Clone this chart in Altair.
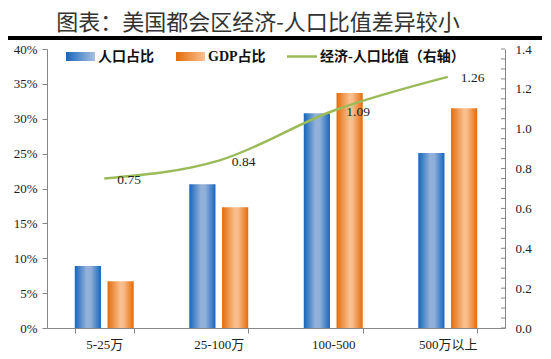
import altair as alt
import pandas as pd

# ---------------- data ----------------
categories = ["5-25万", "25-100万", "100-500", "500万以上"]
series = ["人口占比", "GDP占比"]
pop_share = [0.089, 0.206, 0.308, 0.251]
gdp_share = [0.067, 0.173, 0.337, 0.315]
ratio = [0.75, 0.84, 1.09, 1.26]

title_text = "图表：美国都会区经济-人口比值差异较小"
legend_labels = ["人口占比", "GDP占比", "经济-人口比值（右轴）"]
left_ticks = [0, 0.05, 0.10, 0.15, 0.20, 0.25, 0.30, 0.35, 0.40]
right_ticks = [0.0, 0.2, 0.4, 0.6, 0.8, 1.0, 1.2, 1.4]
minor_ticks = [0.0, 0.05, 0.10, 0.15, 0.20, 0.25, 0.30, 0.35, 0.40, 0.45, 0.50,
               0.55, 0.60, 0.65, 0.70, 0.75, 0.80, 0.85, 0.90, 0.95, 1.00,
               1.05, 1.10, 1.15, 1.20, 1.25, 1.30, 1.35, 1.40]

bars_df = pd.DataFrame(
    [{"cat": c, "series": series[0], "value": v} for c, v in zip(categories, pop_share)]
    + [{"cat": c, "series": series[1], "value": v} for c, v in zip(categories, gdp_share)]
)
line_df = pd.DataFrame({"cat": categories, "ratio": ratio})
minor_df = pd.DataFrame({"ratio": minor_ticks})
one = pd.DataFrame({"k": [0]})

# ---------------- style ----------------
FONT = "Liberation Serif, Noto Sans CJK SC"
CJK = "Noto Sans CJK SC"
AX = "#868686"
TXT = "#222222"

blue_grad = alt.LinearGradient(
    gradient="linear", x1=0, x2=1, y1=0, y2=0,
    stops=[alt.GradientStop(offset=0, color="#1666BE"),
           alt.GradientStop(offset=0.45, color="#93B1D9"),
           alt.GradientStop(offset=0.62, color="#8FAED8"),
           alt.GradientStop(offset=1, color="#1666BE")])
orange_grad = alt.LinearGradient(
    gradient="linear", x1=0, x2=1, y1=0, y2=0,
    stops=[alt.GradientStop(offset=0, color="#E46C0A"),
           alt.GradientStop(offset=0.5, color="#FAC090"),
           alt.GradientStop(offset=0.62, color="#F8BA88"),
           alt.GradientStop(offset=1, color="#E46C0A")])
blue_sw = alt.LinearGradient(
    gradient="linear", x1=0, x2=1, y1=0, y2=0,
    stops=[alt.GradientStop(offset=0, color="#1666BE"),
           alt.GradientStop(offset=1, color="#A9C0E0")])
orange_sw = alt.LinearGradient(
    gradient="linear", x1=0, x2=1, y1=0, y2=0,
    stops=[alt.GradientStop(offset=0, color="#E46C0A"),
           alt.GradientStop(offset=1, color="#FAC090")])

x_axis = alt.Axis(title=None, labelAngle=0, tickBand="extent", tickSize=5,
                  domainColor=AX, tickColor=AX, labelFont=FONT, labelFontSize=13,
                  labelColor=TXT, labelPadding=5, grid=False)
x_scale = alt.Scale(domain=categories, paddingInner=0.485, paddingOuter=0.2425)

X = alt.X("cat:N", sort=None, scale=x_scale, axis=x_axis)
XL = alt.X("cat:N", sort=None, scale=x_scale, axis=x_axis, bandPosition=0.5)
XO = alt.XOffset("series:N", sort=None,
                 scale=alt.Scale(domain=series, paddingInner=0.2, paddingOuter=0))

yl_axis = alt.Axis(title=None, values=left_ticks, format=".0%", grid=False,
                   orient="left", domainColor=AX, tickColor=AX, tickSize=5,
                   labelFont=FONT, labelFontSize=13, labelColor=TXT, labelPadding=5)
YL = alt.Y("value:Q", scale=alt.Scale(domain=[0, 0.4], nice=False), axis=yl_axis)

yr_axis = alt.Axis(title=None, values=right_ticks, format=".1f", grid=False,
                   orient="right", domainColor=AX, ticks=False,
                   labelFont=FONT, labelFontSize=13, labelColor=TXT, labelPadding=10)
YR = alt.Y("ratio:Q", scale=alt.Scale(domain=[0, 1.4], nice=False), axis=yr_axis)

# ---------------- bars ----------------
blue = alt.Chart(bars_df).transform_filter(alt.datum.series == series[0]).mark_bar(
    color=blue_grad).encode(x=X, xOffset=XO, y=YL)
orange = alt.Chart(bars_df).transform_filter(alt.datum.series == series[1]).mark_bar(
    color=orange_grad).encode(x=X, xOffset=XO, y=YL)
bars = alt.layer(blue, orange)

# ---------------- line ----------------
line = alt.Chart(line_df).mark_line(color="#9BBB59", strokeWidth=2.5,
                                    interpolate="monotone").encode(x=XL, y=YR)
labels = alt.Chart(line_df).mark_text(align="left", baseline="middle", dx=13, dy=1,
                                      font=FONT, fontSize=13.5, color=TXT).encode(
    x=XL, y=YR, text=alt.Text("ratio:Q", format=".2f"))
minor = alt.Chart(minor_df).mark_rule(color=AX, strokeWidth=1).encode(
    x=alt.value(454), x2=alt.value(458), y=YR)
right = alt.layer(line, labels, minor)

# ---------------- title & legend ----------------
title = alt.Chart(one).mark_text(font=CJK, fontSize=22, color="#333333", align="center",
                                 baseline="middle").encode(
    x=alt.value(211), y=alt.value(-26), text=alt.value(title_text))
band = alt.Chart(one).mark_rect(color="#000000").encode(
    x=alt.value(-40), x2=alt.value(495), y=alt.value(-13), y2=alt.value(-9))

sw1 = alt.Chart(one).mark_rect(color=blue_sw).encode(
    x=alt.value(19), x2=alt.value(48), y=alt.value(3), y2=alt.value(12))
sw2 = alt.Chart(one).mark_rect(color=orange_sw).encode(
    x=alt.value(129), x2=alt.value(158), y=alt.value(3), y2=alt.value(12))
sw3 = alt.Chart(one).mark_rule(color="#9BBB59", strokeWidth=2.5).encode(
    x=alt.value(240), x2=alt.value(270), y=alt.value(7.5))


def legend_text(label, xpos):
    return alt.Chart(one).mark_text(font=FONT, fontSize=14, fontWeight="bold",
                                    color="#111111", align="left",
                                    baseline="middle").encode(
        x=alt.value(xpos), y=alt.value(7.5), text=alt.value(label))


lt1 = legend_text(legend_labels[0], 51)
lt2 = legend_text(legend_labels[1], 161)
lt3 = legend_text(legend_labels[2], 273)

chart = alt.layer(
    bars, right, title, band, sw1, sw2, sw3, lt1, lt2, lt3
).resolve_scale(y="independent").properties(
    width=458, height=279,
    padding={"left": 39, "top": 41, "right": 38, "bottom": 23},
    autosize=alt.AutoSizeParams(type="none"),
    background="white",
).configure_view(stroke=None)

chart.save("out.html", embed_options={"renderer": "svg", "actions": False})
